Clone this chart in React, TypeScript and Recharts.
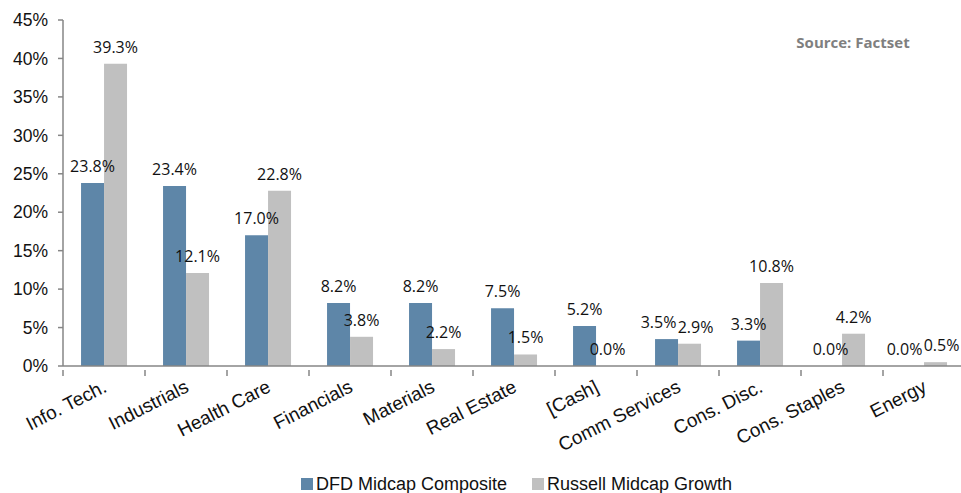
import React from 'react';
import { Bar, BarChart, XAxis, YAxis } from 'recharts';

const sectors = ['Info. Tech.', 'Industrials', 'Health Care', 'Financials', 'Materials', 'Real Estate', '[Cash]', 'Comm Services', 'Cons. Disc.', 'Cons. Staples', 'Energy'];
const dfdValues = [23.8, 23.4, 17.0, 8.2, 8.2, 7.5, 5.2, 3.5, 3.3, 0.0, 0.0];
const russellValues = [39.3, 12.1, 22.8, 3.8, 2.2, 1.5, 0.0, 2.9, 10.8, 4.2, 0.5];
const yTicks = [0, 5, 10, 15, 20, 25, 30, 35, 40, 45];

const BLUE = '#5E86A8';
const GRAY = '#C0C0C0';
const AXIS = '#868686';
const W = 975;
const H = 493;
const MARGIN = { top: 20, right: 10, left: 0, bottom: 0 };

const data = sectors.map((name, i) => ({ name, dfd: dfdValues[i], russell: russellValues[i] }));

// label-only shape, drawn in an overlay chart so labels sit above both series
const makeLabel = (key: 'dfd' | 'russell') => (props: any) => {
    const { x, y, width, payload } = props;
    const value = payload[key];
    const other = key === 'dfd' ? payload.russell : payload.dfd;
    // nudge labels apart when both sit at nearly the same height
    const clash = Math.abs(value - other) < 2;
    const dx = clash ? (key === 'dfd' ? -8 : 6) : 0;
    return (
        <text x={x + width / 2 + dx} y={y - 11} textAnchor="middle" fontFamily="'Open Sans', sans-serif" fontSize={16} fill="#111">
            {Number(value).toFixed(1)}%
        </text>
    );
};

// category label rotated, plus tick marks at the category boundaries
const CategoryTick = (props: any) => {
    const { x, y, payload, index, visibleTicksCount } = props;
    const half = 41;
    const tx = x + 4;
    const ty = y + 17;
    return (
        <g>
            <line x1={x - half} x2={x - half} y1={y - 4} y2={y + 2} stroke={AXIS} strokeWidth={1.5} />
            {index === visibleTicksCount - 1 && (
                <line x1={x + half} x2={x + half} y1={y - 4} y2={y + 2} stroke={AXIS} strokeWidth={1.5} />
            )}
            <text x={tx} y={ty} textAnchor="end" transform={`rotate(-27 ${tx} ${ty})`} fontFamily="'Liberation Sans', Arial, sans-serif" fontSize={19} fill="#111">
                {payload.value}
            </text>
        </g>
    );
};

const yAxisProps = {
    domain: [0, 45],
    ticks: yTicks,
    interval: 0,
    width: 63,
};

export default function App() {
    return (
        <div style={{ position: 'absolute', left: 0, top: 0, width: 961, height: H, overflow: 'hidden', background: '#fff' }}>
            <div style={{ position: 'absolute', left: 0, top: 0 }}>
                <BarChart width={W} height={H} data={data} margin={MARGIN} barCategoryGap="22%" barGap={0}>
                    <XAxis dataKey="name" interval={0} tickLine={false} axisLine={{ stroke: AXIS, strokeWidth: 1.5 }} tick={<CategoryTick />} height={127} />
                    <YAxis
                        {...yAxisProps}
                        tickSize={5}
                        tickMargin={10}
                        tickLine={{ stroke: AXIS, strokeWidth: 1.5 }}
                        axisLine={{ stroke: AXIS, strokeWidth: 1.5 }}
                        tickFormatter={(v: number) => `${v}%`}
                        tick={{ fontFamily: "'Liberation Sans', Arial, sans-serif", fontSize: 17.5, fill: '#111' }}
                    />
                    <Bar dataKey="dfd" fill={BLUE} isAnimationActive={false} />
                    <Bar dataKey="russell" fill={GRAY} isAnimationActive={false} />
                    <text x={853} y={48} textAnchor="middle" fontFamily="'Open Sans', sans-serif" fontWeight="bold" fontSize={15} fill="#7f7f7f">
                        Source: Factset
                    </text>
                </BarChart>
            </div>
            <div style={{ position: 'absolute', left: 0, top: 0, pointerEvents: 'none' }}>
                <BarChart width={W} height={H} data={data} margin={MARGIN} barCategoryGap="22%" barGap={0}>
                    <XAxis dataKey="name" interval={0} tick={false} tickLine={false} axisLine={false} height={127} />
                    <YAxis {...yAxisProps} tick={false} tickLine={false} axisLine={false} />
                    <Bar dataKey="dfd" isAnimationActive={false} shape={makeLabel('dfd')} />
                    <Bar dataKey="russell" isAnimationActive={false} shape={makeLabel('russell')} />
                </BarChart>
            </div>
            <div style={{ position: 'absolute', left: 301, top: 474, display: 'flex', alignItems: 'center', fontFamily: "'Liberation Sans', Arial, sans-serif", fontSize: 18, color: '#111', whiteSpace: 'nowrap', lineHeight: '20px' }}>
                <span style={{ display: 'inline-block', width: 12, height: 12, background: BLUE, marginRight: 3 }} />
                <span>DFD Midcap Composite</span>
                <span style={{ display: 'inline-block', width: 12, height: 12, background: GRAY, marginLeft: 25, marginRight: 3 }} />
                <span>Russell Midcap Growth</span>
            </div>
        </div>
    );
}
